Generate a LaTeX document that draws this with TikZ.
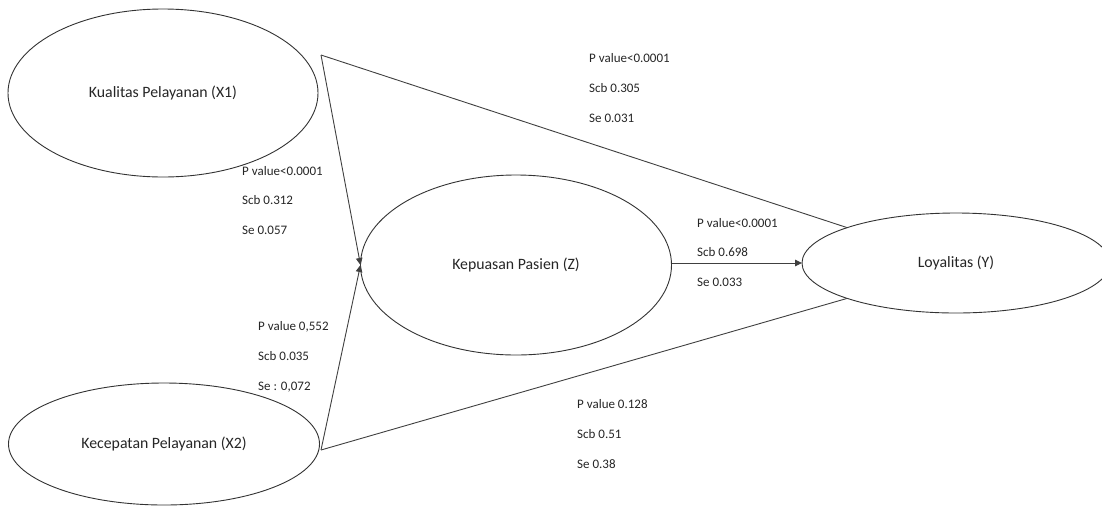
\documentclass[tikz,border=0pt]{standalone}
\usepackage{fontspec}
\setmainfont{Carlito}
\usetikzlibrary{shapes.geometric,arrows.meta}
\begin{document}
\begin{tikzpicture}[x=1pt,y=-1pt,
  latent/.style={ellipse,draw=black!80,line width=0.9pt,inner sep=0pt,outer sep=0pt,
    font=\fontsize{15.8}{18}\selectfont,text=black!85},
  stat/.style={anchor=base west,inner sep=0pt,font=\fontsize{13}{15}\selectfont,text=black!85},
  link/.style={draw=black!75,line width=0.9pt},
  tip/.style={-{Triangle[length=7pt,width=6.5pt]}}]
\useasboundingbox (0,0) rectangle (1102,507);
\fill[white] (0,0) rectangle (1102,507);
% latent variables
\node[latent,minimum width=310,minimum height=168] (x1) at (163,93) {Kualitas Pelayanan (X1)};
\node[latent,minimum width=311,minimum height=122] (x2) at (164,444) {Kecepatan Pelayanan (X2)};
\node[latent,minimum width=311,minimum height=180] (z) at (516,265) {Kepuasan Pasien (Z)};
\node[latent,minimum width=308,minimum height=100] (y) at (956,263) {Loyalitas (Y)};
% corner points of the paths
\coordinate (c1) at (321,55);
\coordinate (c2) at (321,450);
% connectors
\draw[link,tip] (c1) -- (z.west);
\draw[link,tip] (c2) -- (z.west);
\draw[link] (c1) -- (y.162);
\draw[link] (c2) -- (y.198);
\draw[link,tip] (z.east |- y.west) -- (y.west);
% statistics
\node[stat] (s1a) at (589,62.5) {P value<0.0001};
\node[stat] (s1b) at (589,92.5) {Scb 0.305};
\node[stat] (s1c) at (589,122.5) {Se 0.031};
\node[stat] (s2a) at (242,175.5) {P value<0.0001};
\node[stat] (s2b) at (242,204.5) {Scb 0.312};
\node[stat] (s2c) at (242,234.5) {Se 0.057};
\node[stat] (s3a) at (697,227.5) {P value<0.0001};
\node[stat] (s3b) at (697,256.5) {Scb 0.698};
\node[stat] (s3c) at (697,286.5) {Se 0.033};
\node[stat] (s4a) at (258,330.5) {P value 0,552};
\node[stat] (s4b) at (258,360.5) {Scb 0.035};
\node[stat] (s4c) at (258,390.5) {Se : 0,072};
\node[stat] (s5a) at (577,408.5) {P value 0.128};
\node[stat] (s5b) at (577,438.5) {Scb 0.51};
\node[stat] (s5c) at (577,468.5) {Se 0.38};
\end{tikzpicture}
\end{document}
